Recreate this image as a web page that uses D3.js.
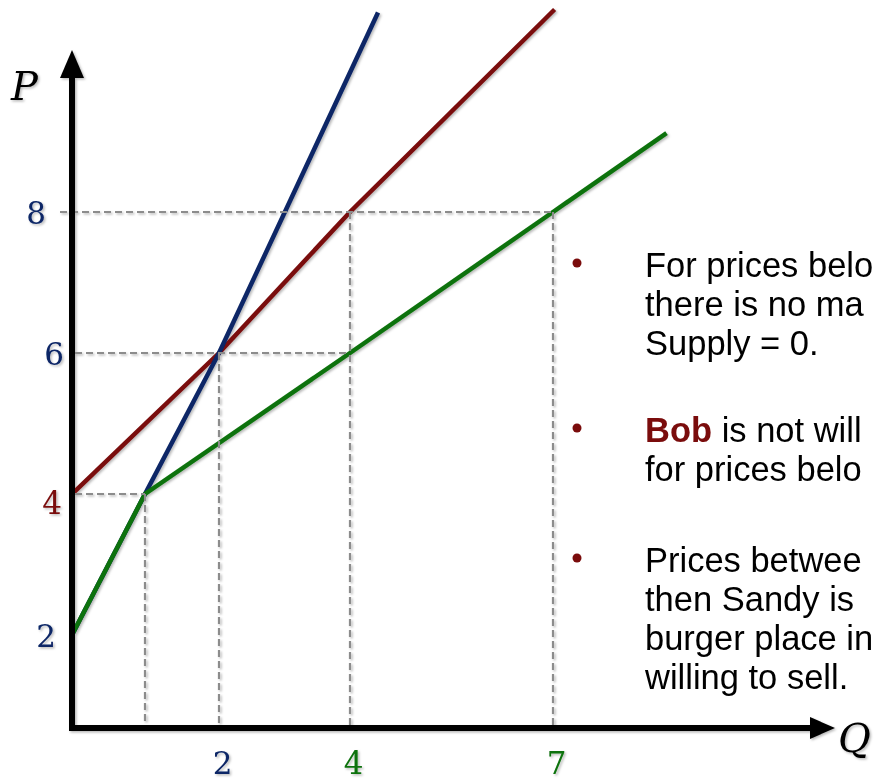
<!DOCTYPE html>
<html>
<head>
<meta charset="utf-8">
<script src="https://cdnjs.cloudflare.com/ajax/libs/d3/7.8.5/d3.min.js"></script>
<style>
  body { margin: 0; background: #ffffff; }
  svg { display: block; }
</style>
</head>
<body>
<svg id="chart" width="875" height="783"></svg>
<script>

// supply curves as [Q, P] points
var sandy = [[0, 2], [1, 4], [2, 6], [4.4, 10.8]];
var bob = [[0, 4], [2, 6], [4, 8], [7, 10.85]];
var market = [[0, 2], [1, 4], [4, 6], [7, 8], [8.65, 9.1]];

// dashed helper lines
var hGuides = [[1, 4], [4, 6], [7, 8]];
var vGuides = [[1, 4], [2, 6], [4, 8], [7, 8]];

var priceTicks = [2, 4, 6, 8];
var quantityTicks = [2, 4, 7];

// bullet notes (only what is visible on the slide)
var notes = [
  [["For prices belo"], ["there is no ma"], ["Supply = 0."]],
  [["Bob", " is not will"], ["for prices belo"]],
  [["Prices betwee"], ["then Sandy is"], ["burger place in"], ["willing to sell."]]
];

//:\\\ styles //:\\\

var navy = "#0a2566";
var maroon = "#7a0c0c";
var green = "#0b720b";
var guideGray = "#8c8c8c";

var priceColor = {2: navy, 4: maroon, 6: navy, 8: navy};
var priceNudge = {2: -8, 4: -2, 6: 0, 8: -18};
var quantityColor = {2: navy, 4: green, 7: green};

var svg = d3.select("#chart");

var defs = svg.append("defs");
defs.append("filter")
    .attr("id", "shadow")
    .attr("x", "-10%").attr("y", "-10%")
    .attr("width", "130%").attr("height", "130%")
  .append("feDropShadow")
    .attr("dx", 1.5)
    .attr("dy", 1.5)
    .attr("stdDeviation", 1.2)
    .attr("flood-color", "#000")
    .attr("flood-opacity", 0.28);

// hand drawn slide, so quantity axis is not evenly spaced
var x = d3.scaleLinear()
          .domain([0, 1, 2, 4, 7])
          .range([72, 145, 219, 350, 553]);

var y = d3.scaleLinear()
          .domain([2, 8])
          .range([635, 212]);

var originX = 72,
    originY = 728;

var chart = svg.append("g").attr("filter", "url(#shadow)");

// supply lines
var line = d3.line()
             .x(function(d) { return x(d[0]); })
             .y(function(d) { return y(d[1]); });

var curves = [
  {data: bob, color: maroon},
  {data: sandy, color: navy},
  {data: market, color: green}
];

chart.selectAll(".curve")
     .data(curves)
     .enter()
     .append("path")
     .attr("class", "curve")
     .attr("d", function(d) { return line(d.data); })
     .attr("fill", "none")
     .attr("stroke", function(d) { return d.color; })
     .attr("stroke-width", 4.5)
     .attr("stroke-linecap", "square");

// dashed guides
chart.selectAll(".hguide")
     .data(hGuides)
     .enter()
     .append("line")
     .attr("class", "hguide")
     .attr("x1", function(d) { return d[1] == 8 ? originX - 12 : originX + 3; })
     .attr("x2", function(d) { return x(d[0]); })
     .attr("y1", function(d) { return y(d[1]); })
     .attr("y2", function(d) { return y(d[1]); });

chart.selectAll(".vguide")
     .data(vGuides)
     .enter()
     .append("line")
     .attr("class", "vguide")
     .attr("x1", function(d) { return x(d[0]); })
     .attr("x2", function(d) { return x(d[0]); })
     .attr("y1", function(d) { return y(d[1]); })
     .attr("y2", originY - 3);

chart.selectAll(".hguide, .vguide")
     .attr("stroke", guideGray)
     .attr("stroke-width", 2.2)
     .attr("stroke-dasharray", "7 4");

// axes with arrow heads
chart.append("line")
     .attr("x1", originX).attr("y1", originY + 3)
     .attr("x2", originX).attr("y2", 74)
     .attr("stroke", "#000")
     .attr("stroke-width", 6);

chart.append("path")
     .attr("d", "M" + originX + ",50L" + (originX - 12) + ",78L" + (originX + 12) + ",78Z")
     .attr("fill", "#000");

chart.append("line")
     .attr("x1", originX - 3).attr("y1", originY)
     .attr("x2", 812).attr("y2", originY)
     .attr("stroke", "#000")
     .attr("stroke-width", 6);

chart.append("path")
     .attr("d", "M835," + originY + "L810," + (originY - 11) + "L810," + (originY + 11) + "Z")
     .attr("fill", "#000");

// tick labels through d3 axes
var yAxis = chart.append("g")
     .attr("transform", "translate(" + originX + ",0)")
     .call(d3.axisLeft(y).tickValues(priceTicks).tickFormat(d3.format("d"))
             .tickSize(0).tickPadding(8));

var xAxis = chart.append("g")
     .attr("transform", "translate(0," + originY + ")")
     .call(d3.axisBottom(x).tickValues(quantityTicks).tickFormat(d3.format("d"))
             .tickSize(0).tickPadding(24));

yAxis.select(".domain").remove();
xAxis.select(".domain").remove();

yAxis.selectAll("text")
     .style("font-family", "DejaVu Serif, serif")
     .style("font-size", "31px")
     .attr("fill", function(d) { return priceColor[d]; })
     .attr("dx", function(d) { return priceNudge[d]; })
     .attr("dy", function(d) { return d == 4 ? "0.62em" : "0.36em"; });

xAxis.selectAll("text")
     .style("font-family", "DejaVu Serif, serif")
     .style("font-size", "31px")
     .attr("fill", function(d) { return quantityColor[d]; })
     .attr("dx", 3);

// axis titles
chart.append("text")
     .attr("x", 11)
     .attr("y", 100)
     .text("P")
     .style("font-family", "DejaVu Serif, serif")
     .style("font-style", "italic")
     .style("font-size", "40px");

chart.append("text")
     .attr("x", 838)
     .attr("y", 752)
     .text("Q")
     .style("font-family", "DejaVu Serif, serif")
     .style("font-style", "italic")
     .style("font-size", "40px");

//:\\\ bullet notes //:\\\

var noteTop = [277, 442, 572];
var lineHeight = 39;

var noteGroup = svg.selectAll(".note")
                   .data(notes)
                   .enter()
                   .append("g")
                   .attr("class", "note");

noteGroup.append("circle")
         .attr("cx", 577)
         .attr("cy", function(d, i) { return noteTop[i] - 14; })
         .attr("r", 4.5)
         .attr("fill", maroon);

noteGroup.each(function(d, i) {
  var txt = d3.select(this).append("text")
              .style("font-family", "Liberation Sans, Arial, sans-serif")
              .style("font-size", "34.5px")
              .attr("fill", "#000");

  d.forEach(function(parts, j) {
    var row = txt.append("tspan")
                 .attr("x", 645)
                 .attr("y", noteTop[i] + j * lineHeight);
    if (parts.length > 1) {
      // first word is highlighted
      row.append("tspan")
         .text(parts[0])
         .attr("fill", maroon)
         .style("font-weight", "bold");
      row.append("tspan").text(parts[1]);
    } else {
      row.text(parts[0]);
    }
  });
});
</script>
</body>
</html>
